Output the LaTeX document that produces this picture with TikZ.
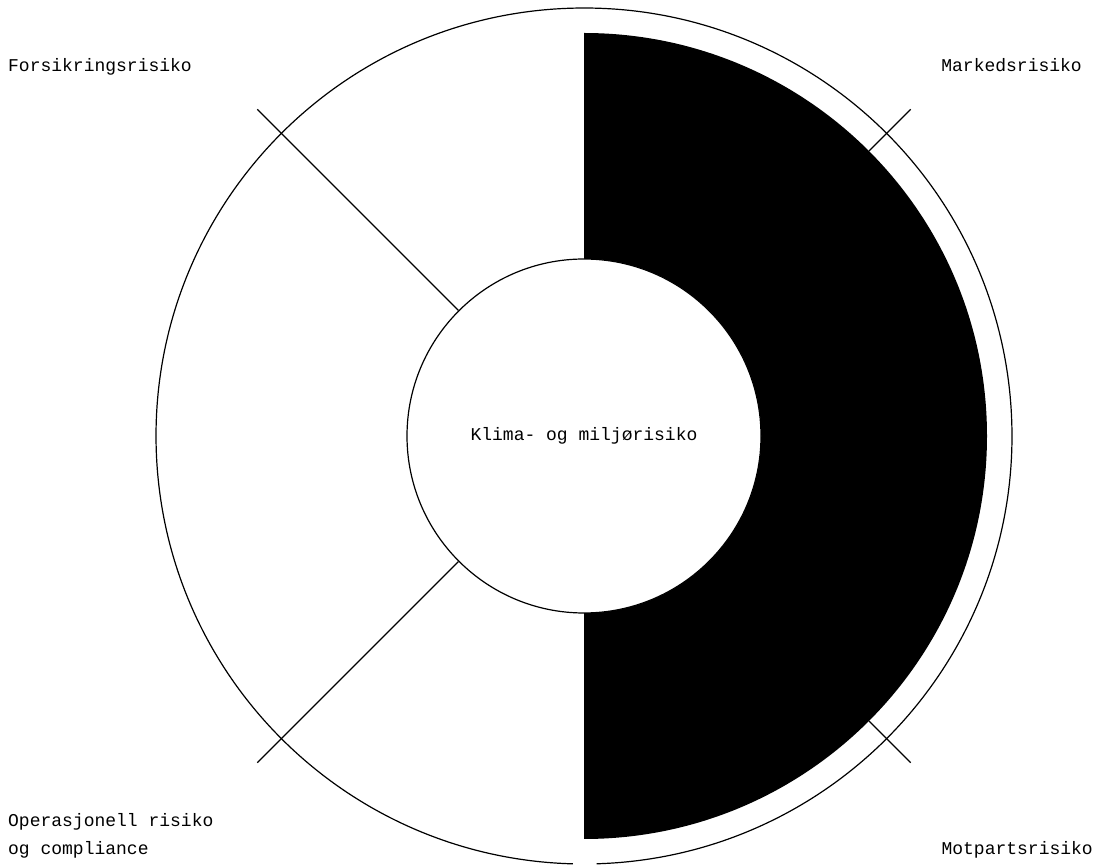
\documentclass[tikz,border=0pt]{standalone}
\usepackage{fontspec}
\setmonofont{Liberation Mono}
\usetikzlibrary{calc}
\begin{document}
\begin{tikzpicture}[x=1pt,y=1pt,
  ring/.style={draw=black,line width=1.2pt},
  divider/.style={draw=black,line width=1.2pt},
  label/.style={font=\ttfamily\fontsize{18}{28}\selectfont,inner sep=0pt,anchor=base west,align=left}]
\useasboundingbox (0,0) rectangle (1098,865);
\coordinate (c) at (584,429);
% black half ring
\fill[black] ($(c)+(0,403)$) arc[start angle=90,end angle=-90,radius=403]
  -- ($(c)+(0,-177)$) arc[start angle=-90,end angle=90,radius=177] -- cycle;
% outer circle with a small gap at the bottom
\draw[ring] ($(c)+(-88.3:428)$) arc[start angle=-88.3,end angle=268.5,radius=428];
% inner circle
\node[circle,draw=black,line width=1.2pt,fill=white,minimum size=354pt,inner sep=0pt,
  font=\ttfamily\fontsize{18}{22}\selectfont] (k) at (c) {Klima- og miljørisiko};
% dividers
\coordinate (ul) at ($(c)+(135:462)$);
\coordinate (ll) at ($(c)+(225:462)$);
\coordinate (ur0) at ($(c)+(45:403)$);
\coordinate (ur) at ($(c)+(45:462)$);
\coordinate (lr0) at ($(c)+(-45:403)$);
\coordinate (lr) at ($(c)+(-45:462)$);
\draw[divider] (k.135) -- (ul);
\draw[divider] (k.225) -- (ll);
\draw[divider] (ur0) -- (ur);
\draw[divider] (lr0) -- (lr);
% labels
\node[label] (f) at (8,793) {Forsikringsrisiko};
\node[label,anchor=base east] (m) at (1082,793) {Markedsrisiko};
\node[label] (o) at (8,38) {Operasjonell risiko};
\node[label] (o2) at (8,10) {og compliance};
\node[label,anchor=base east] (mp) at (1093,10) {Motpartsrisiko};
\end{tikzpicture}
\end{document}
